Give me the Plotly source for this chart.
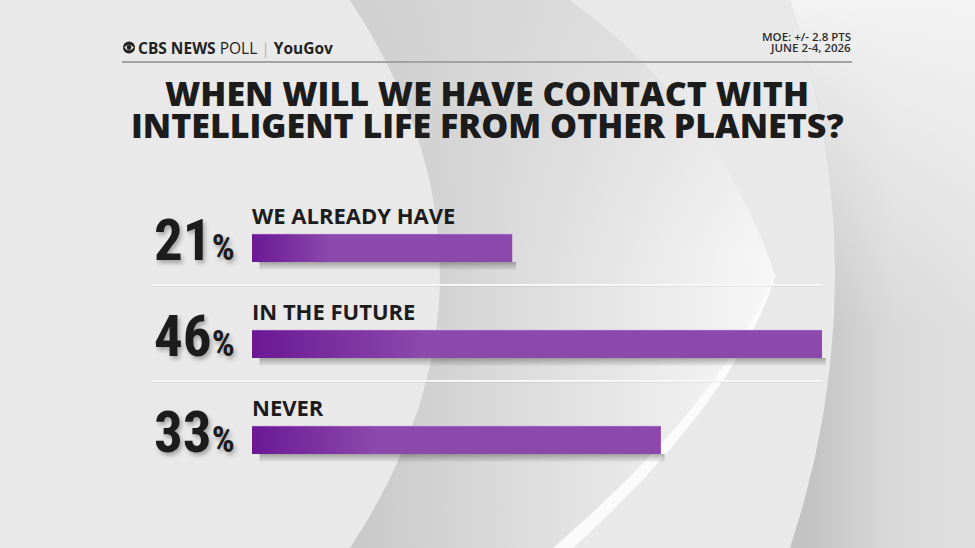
import numpy as np
import plotly.graph_objects as go

# ---------------- data ----------------
categories = ["WE ALREADY HAVE", "IN THE FUTURE", "NEVER"]
values = [21, 46, 33]
title_lines = ["WHEN WILL WE HAVE CONTACT WITH", "INTELLIGENT LIFE FROM OTHER PLANETS?"]
moe_lines = ["MOE: +/- 2.8 PTS", "JUNE 2-4, 2026"]

W, H = 975, 548
PX_PER_PT = 12.391
X_MAX = 50
BAR_LEFT = 252
HALF = 0.146          # half bar thickness in category units
INK = "#1c1c1c"
NUM_FONT = "Liberation Sans Narrow, Roboto Condensed, DejaVu Sans Condensed, sans-serif"
SANS = "Open Sans, Inter, Lato, sans-serif"


def quad(p0, c, p2, n=60):
    t = np.linspace(0, 1, n)
    x = (1 - t) ** 2 * p0[0] + 2 * t * (1 - t) * c[0] + t ** 2 * p2[0]
    y = (1 - t) ** 2 * p0[1] + 2 * t * (1 - t) * c[1] + t ** 2 * p2[1]
    return x, y


fig = go.Figure()

# ---------------- background swooshes (pixel axes x / y) ----------------
ax_x, ax_y = quad((350, 0), (530, 274), (350, 548))
up_x, up_y = quad((570, 0), (720, 110), (775, 275))
lo_x, lo_y = quad((775, 275), (730, 400), (563, 548))

lens_x = np.concatenate([ax_x, [563], lo_x[::-1], up_x[::-1], [350]])
lens_y = np.concatenate([ax_y, [548], lo_y[::-1], up_y[::-1], [0]])
fig.add_trace(go.Scatter(
    x=lens_x, y=lens_y, mode="lines", fill="toself", line=dict(width=0),
    fillgradient=dict(type="horizontal", start=355, stop=760,
                      colorscale=[[0, "#c9c9c9"], [0.45, "#dedede"], [1, "#f6f6f6"]]),
    hoverinfo="skip", showlegend=False, xaxis="x", yaxis="y"))
fig.add_trace(go.Scatter(
    x=lens_x, y=lens_y, mode="lines", fill="toself", line=dict(width=0),
    fillgradient=dict(type="vertical", start=0, stop=260,
                      colorscale=[[0, "rgba(214,214,214,0.6)"], [1, "rgba(214,214,214,0)"]]),
    hoverinfo="skip", showlegend=False, xaxis="x", yaxis="y"))

tt = np.linspace(0, 1, len(lo_x))
wdt = 1 + 9 * tt
stripe_x = np.concatenate([lo_x - wdt, (lo_x + wdt)[::-1]])
stripe_y = np.concatenate([lo_y, lo_y[::-1]])
fig.add_trace(go.Scatter(
    x=stripe_x, y=stripe_y, mode="lines", fill="toself", line=dict(width=0),
    fillcolor="#fbfbfb", hoverinfo="skip", showlegend=False, xaxis="x", yaxis="y"))

ar_x, ar_y = quad((790, 0), (880, 274), (790, 548))
right_x = np.concatenate([ar_x, [975, 975, 790]])
right_y = np.concatenate([ar_y, [548, 0, 0]])
fig.add_trace(go.Scatter(
    x=right_x, y=right_y, mode="lines", fill="toself", line=dict(width=0),
    fillgradient=dict(type="horizontal", start=810, stop=975,
                      colorscale=[[0, "#c3c3c3"], [0.5, "#d9d9d9"], [1, "#e0e0e0"]]),
    hoverinfo="skip", showlegend=False, xaxis="x", yaxis="y"))
fig.add_trace(go.Scatter(
    x=right_x, y=right_y, mode="lines", fill="toself", line=dict(width=0),
    fillgradient=dict(type="vertical", start=0, stop=330,
                      colorscale=[[0, "rgba(243,243,243,1)"], [1, "rgba(243,243,243,0)"]]),
    hoverinfo="skip", showlegend=False, xaxis="x", yaxis="y"))

# ---------------- bars (data axes x2 / y2) ----------------
for i, v in enumerate(values):
    sx = [0.6, v + 0.3, v + 0.3, 0.6, 0.6]
    sy = [i + HALF, i + HALF, i + HALF + 0.09, i + HALF + 0.09, i + HALF]
    fig.add_trace(go.Scatter(
        x=sx, y=sy, mode="lines", fill="toself", line=dict(width=0),
        fillgradient=dict(type="vertical", start=i + HALF, stop=i + HALF + 0.09,
                          colorscale=[[0, "rgba(0,0,0,0.30)"], [1, "rgba(0,0,0,0)"]]),
        hoverinfo="skip", showlegend=False, xaxis="x2", yaxis="y2"))
    bx = [0, v, v, 0, 0]
    by = [i - HALF, i - HALF, i + HALF, i + HALF, i - HALF]
    fig.add_trace(go.Scatter(
        x=bx, y=by, mode="lines", fill="toself", line=dict(width=0),
        fillgradient=dict(type="horizontal", start=0, stop=0.3 * v,
                          colorscale=[[0, "#6a1993"], [1, "#8c48ad"]]),
        name=categories[i], hovertemplate=f"{categories[i]}: {v}%<extra></extra>",
        showlegend=False, xaxis="x2", yaxis="y2"))
    # thin light top edge of the bar
    fig.add_trace(go.Scatter(
        x=[0, v], y=[i - HALF, i - HALF], mode="lines",
        line=dict(color="rgba(215,180,235,0.55)", width=1),
        hoverinfo="skip", showlegend=False, xaxis="x2", yaxis="y2"))

annotations = []
shapes = []

for i, (c, v) in enumerate(zip(categories, values)):
    annotations.append(dict(
        xref="x", yref="y2", x=152, y=i + HALF, xanchor="left", yanchor="bottom",
        yshift=-14, showarrow=False,
        text=f"{v}<span style='font-size:36px'>%</span>",
        font=dict(family=NUM_FONT, size=57, color=INK, weight="bold",
                  shadow="2px 3px 4px rgba(0,0,0,0.30)")))
    annotations.append(dict(
        xref="x2", yref="y2", x=0, y=i - HALF, xanchor="left", yanchor="bottom",
        xshift=-2, yshift=2, showarrow=False, text=c,
        font=dict(family=SANS, size=22, color=INK, weight=700)))

for i in range(len(values) - 1):
    shapes.append(dict(type="line", xref="x", yref="y2", x0=152, x1=822,
                       y0=i + 0.385, y1=i + 0.385, line=dict(color="#f9f9f9", width=2)))
    shapes.append(dict(type="line", xref="x", yref="y2", x0=152, x1=822,
                       y0=i + 0.398, y1=i + 0.398, line=dict(color="rgba(0,0,0,0.07)", width=1)))

for line, yy in zip(title_lines, [93, 125]):
    annotations.append(dict(
        xref="x", yref="y", x=487, y=yy, xanchor="center", yanchor="middle",
        showarrow=False, text=line,
        font=dict(family=SANS, size=34, color=INK, weight=800)))

annotations.append(dict(
    xref="x", yref="y", x=136, y=47.5, xanchor="left", yanchor="middle", showarrow=False,
    text="<b>CBS NEWS</b> POLL <span style='color:#b5b5b5'>|</span> <b>YouGov</b>",
    font=dict(family=SANS, size=15.5, color="#222222")))
for line, yy in zip(moe_lines, [36.5, 47.5]):
    annotations.append(dict(
        xref="x", yref="y", x=853, y=yy, xanchor="right", yanchor="middle", showarrow=False,
        text=line, font=dict(family=SANS, size=11.5, color="#2c2c2c", weight=600)))

shapes.append(dict(type="line", xref="x", yref="y", x0=122, x1=852, y0=62, y1=62,
                   line=dict(color="#a3a3a3", width=2)))
shapes.append(dict(type="circle", xref="x", yref="y", x0=123, x1=135, y0=41.5, y1=53.5,
                   fillcolor="#222222", line=dict(width=0)))
shapes.append(dict(type="path", xref="x", yref="y",
                   path="M 124.2 47.5 Q 129 41.8 133.8 47.5 Q 129 53.2 124.2 47.5 Z",
                   fillcolor="#f2f2f2", line=dict(width=0)))
shapes.append(dict(type="circle", xref="x", yref="y", x0=126.6, x1=131.4, y0=45.1, y1=49.9,
                   fillcolor="#222222", line=dict(width=0)))

fig.update_layout(
    width=W, height=H, margin=dict(l=0, r=0, t=0, b=0),
    paper_bgcolor="#e9e9e9", plot_bgcolor="rgba(0,0,0,0)",
    xaxis=dict(domain=[0, 1], range=[0, W], visible=False, fixedrange=True),
    yaxis=dict(domain=[0, 1], range=[H, 0], visible=False, fixedrange=True),
    xaxis2=dict(domain=[BAR_LEFT / W, (BAR_LEFT + X_MAX * PX_PER_PT) / W], range=[0, X_MAX],
                anchor="y2", visible=False, fixedrange=True),
    yaxis2=dict(domain=[1 - 488 / H, 1 - 200 / H], range=[2.5, -0.5], anchor="x2",
                visible=False, fixedrange=True),
    annotations=annotations, shapes=shapes, showlegend=False,
)

fig.write_html("out.html", config={"displayModeBar": False},
               post_script="document.body.style.margin='0';document.body.style.overflow='hidden';")
